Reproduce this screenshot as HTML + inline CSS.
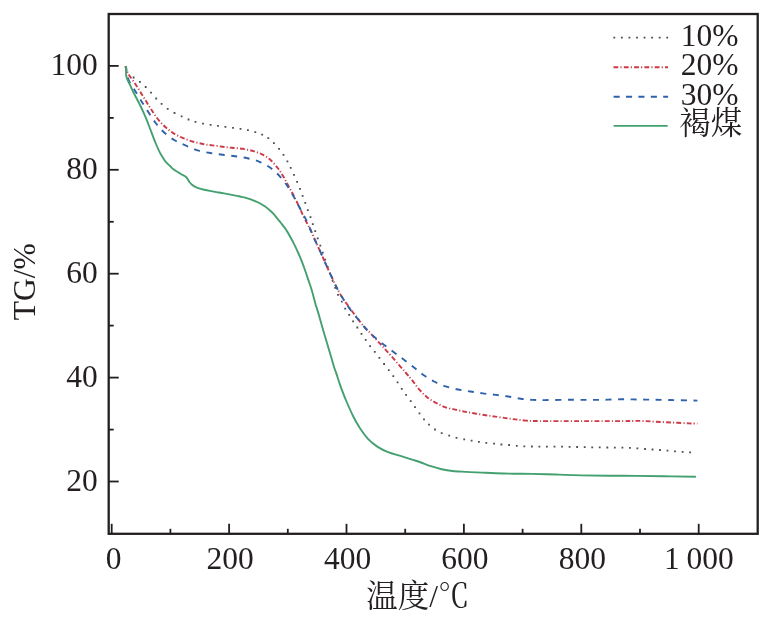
<!DOCTYPE html>
<html><head><meta charset="utf-8"><title>TG</title>
<style>html,body{margin:0;padding:0;background:#fff}body{width:780px;height:620px;overflow:hidden}svg{display:block}text{font-family:"Liberation Serif","Noto Serif CJK SC",serif;font-size:31.5px;fill:#231f20}</style></head><body>
<svg width="780" height="620" viewBox="0 0 780 620">
<rect x="0" y="0" width="780" height="620" fill="#fff"/>
<g fill="none" stroke-linejoin="round">
<path d="M133.6 77.5h.01M139.9 81.9h.01M145.7 87.0h.01M151.0 92.6h.01M156.2 98.5h.01M161.6 103.8h.01M167.7 108.9h.01M174.5 113.0h.01M181.6 116.4h.01M188.5 119.5h.01M195.5 121.9h.01M203.0 123.7h.01M210.6 124.9h.01M218.0 125.9h.01M225.4 126.8h.01M233.0 127.8h.01M240.5 128.9h.01M247.9 130.1h.01M255.3 132.2h.01M262.2 134.7h.01M268.3 138.2h.01M273.9 143.1h.01M279.1 148.8h.01M283.5 154.9h.01M287.4 161.3h.01M290.7 167.9h.01M294.0 174.9h.01M297.1 181.9h.01M300.0 188.8h.01M302.6 195.8h.01M305.3 202.8h.01M307.8 210.1h.01M310.5 217.1h.01M312.8 224.1h.01M315.2 231.2h.01M317.7 238.3h.01M320.3 245.6h.01M322.8 252.7h.01M325.2 259.7h.01M327.7 266.8h.01M330.1 273.8h.01M332.6 280.9h.01M335.2 287.9h.01M338.0 294.8h.01M341.8 301.6h.01M345.2 308.6h.01M349.2 314.8h.01M353.1 321.4h.01M357.3 327.5h.01M361.5 333.8h.01M365.7 339.9h.01M370.1 346.1h.01M374.8 351.9h.01M379.4 357.8h.01M384.1 364.0h.01M388.8 370.1h.01M393.3 376.2h.01M397.6 382.4h.01M401.8 388.9h.01M406.1 394.8h.01M410.7 401.2h.01M415.0 407.2h.01M419.5 413.3h.01M424.0 419.4h.01M429.0 424.7h.01M435.0 429.5h.01M441.7 433.2h.01M449.2 435.6h.01M456.5 437.8h.01M464.2 439.3h.01M471.6 440.6h.01M478.9 441.8h.01M486.3 442.9h.01M494.1 443.7h.01M501.4 444.5h.01M509.1 445.0h.01M516.8 445.8h.01M524.3 446.3h.01M531.9 446.5h.01M539.4 446.6h.01M546.9 446.6h.01M554.5 446.6h.01M562.0 446.7h.01M569.6 446.9h.01M577.1 447.0h.01M584.7 447.2h.01M592.2 447.3h.01M599.7 447.4h.01M607.3 447.5h.01M614.8 447.6h.01M622.4 447.7h.01M629.9 447.9h.01M637.4 448.4h.01M645.0 449.0h.01M652.5 449.5h.01M660.0 450.0h.01M667.5 450.6h.01M675.0 451.3h.01M682.6 451.9h.01M690.1 452.4h.01" stroke="#4d4d4f" stroke-width="1.8" stroke-linecap="square"/>
<path d="M125.2 66.2C125.4 66.7 125.9 68.3 126.3 69.4C126.7 70.5 127.1 71.6 127.7 72.8C128.3 74.0 128.7 74.5 130.0 76.5C131.3 78.5 133.9 81.9 135.8 84.8C137.7 87.7 139.8 91.0 141.6 93.9C143.4 96.8 144.9 99.4 146.7 102.2C148.4 105.0 150.2 107.9 152.1 110.8C154.0 113.7 156.0 116.8 158.2 119.5C160.4 122.2 162.9 124.8 165.3 127.0C167.8 129.2 170.0 131.1 172.9 132.9C175.8 134.7 179.2 136.4 182.5 137.8C185.8 139.2 189.1 140.5 192.5 141.5C195.9 142.5 199.7 143.3 203.0 144.0C206.3 144.7 209.0 145.0 212.3 145.4C215.6 145.8 219.3 146.3 222.6 146.7C225.9 147.1 228.6 147.5 232.0 147.8C235.4 148.2 239.2 148.2 242.8 148.8C246.4 149.4 250.3 150.2 253.6 151.2C256.9 152.2 259.8 153.2 262.7 154.7C265.6 156.2 268.2 157.9 270.8 160.2C273.4 162.5 276.0 165.8 278.1 168.5C280.2 171.2 281.5 173.5 283.3 176.5C285.1 179.5 287.0 183.4 288.7 186.5C290.4 189.6 291.8 192.0 293.4 195.0C294.9 198.0 296.5 201.1 298.0 204.3C299.5 207.5 301.1 211.2 302.6 214.4C304.2 217.6 305.9 220.9 307.3 223.7C308.7 226.4 309.6 227.9 311.0 230.9C312.4 233.9 314.0 237.9 315.7 241.7C317.4 245.4 319.3 249.4 321.1 253.4C322.9 257.4 324.7 261.7 326.5 265.7C328.3 269.7 330.1 273.5 331.9 277.4C333.7 281.3 335.6 285.5 337.4 289.0C339.2 292.5 341.3 295.9 342.8 298.3C344.3 300.7 344.6 300.9 346.5 303.5C348.4 306.1 351.6 310.6 354.2 314.0C356.8 317.4 359.1 320.8 361.9 324.1C364.7 327.5 368.1 330.8 371.2 334.1C374.3 337.5 377.4 340.8 380.5 344.2C383.6 347.6 386.7 350.8 389.8 354.3C392.9 357.8 396.4 362.0 399.1 365.1C401.8 368.2 403.9 370.6 406.0 373.0C408.1 375.4 409.2 376.6 411.4 379.3C413.6 382.0 416.5 386.4 419.2 389.4C421.9 392.4 424.5 395.1 427.3 397.4C430.1 399.6 432.9 401.2 436.0 402.9C439.1 404.5 442.2 406.1 445.6 407.3C449.0 408.5 453.1 409.1 456.5 409.9C459.9 410.7 462.6 411.3 465.7 411.9C468.8 412.5 471.6 412.9 475.0 413.5C478.4 414.1 482.5 414.8 485.9 415.3C489.3 415.8 491.8 416.1 495.2 416.6C498.6 417.1 502.6 417.6 506.0 418.1C509.4 418.6 511.9 419.0 515.3 419.4C518.6 419.8 522.0 420.3 526.1 420.6C530.2 420.9 530.8 421.0 540.0 421.1C549.2 421.2 567.5 421.1 581.3 421.1C595.1 421.1 613.0 421.1 622.6 421.1C632.2 421.1 633.6 420.8 639.1 420.9C644.6 421.0 650.1 421.4 655.6 421.7C661.1 422.0 666.6 422.2 672.1 422.5C677.6 422.8 684.4 423.2 688.6 423.4C692.8 423.6 695.9 423.5 697.4 423.5" stroke="#cb3a45" stroke-width="1.9" stroke-dasharray="4.8 2.164 1.1 2.164" stroke-dashoffset="1.02"/>
<path d="M126.1 66.2C126.1 66.8 126.2 68.6 126.4 70.0C126.6 71.4 126.8 73.1 127.2 74.8C127.6 76.5 127.5 77.6 128.8 80.3C130.1 83.0 133.0 87.4 135.2 91.0C137.4 94.6 139.6 98.3 141.9 101.9C144.2 105.5 146.5 109.3 148.8 112.8C151.1 116.3 153.2 119.8 155.7 123.0C158.2 126.2 160.8 129.4 163.9 132.3C167.1 135.2 171.0 138.1 174.6 140.3C178.2 142.5 181.9 143.8 185.7 145.5C189.5 147.2 193.5 149.2 197.6 150.4C201.7 151.7 206.1 152.3 210.3 153.0C214.5 153.7 218.5 154.2 222.6 154.7C226.7 155.2 230.9 155.6 235.0 156.2C239.1 156.8 243.3 157.4 247.4 158.3C251.5 159.2 255.8 160.2 259.6 161.8C263.4 163.4 267.1 165.4 270.4 167.8C273.7 170.2 276.8 173.1 279.6 176.1C282.4 179.1 284.8 182.1 287.2 185.7C289.6 189.2 291.9 193.5 294.1 197.4C296.3 201.3 298.2 205.1 300.3 209.0C302.4 212.9 304.7 216.9 306.5 220.6C308.3 224.2 309.5 227.4 311.0 230.9C312.5 234.4 314.0 237.9 315.7 241.7C317.4 245.4 319.3 249.4 321.1 253.4C322.9 257.4 324.7 261.7 326.5 265.7C328.3 269.7 330.1 273.5 331.9 277.4C333.7 281.3 335.5 285.5 337.4 289.0C339.2 292.5 341.0 295.2 343.0 298.5C345.0 301.8 347.0 305.0 349.6 308.6C352.2 312.2 356.0 316.7 358.8 320.2C361.6 323.7 363.8 326.5 366.6 329.5C369.5 332.5 372.8 335.6 375.9 338.3C379.0 341.0 382.0 343.2 385.2 345.7C388.4 348.2 391.8 350.7 395.2 353.2C398.6 355.7 402.0 358.3 405.3 360.8C408.6 363.3 411.9 365.9 415.0 368.3C418.1 370.7 420.6 373.1 423.8 375.3C427.0 377.5 430.4 379.6 434.0 381.5C437.6 383.4 441.6 385.1 445.6 386.4C449.6 387.7 453.9 388.6 458.0 389.5C462.1 390.4 466.3 390.9 470.4 391.5C474.5 392.1 478.6 392.8 482.8 393.4C487.1 394.0 491.6 394.4 495.9 394.9C500.1 395.4 504.2 395.9 508.3 396.5C512.4 397.1 516.7 398.1 520.7 398.7C524.8 399.3 528.7 399.7 532.6 399.9C536.5 400.1 537.7 400.1 544.1 400.1C550.5 400.1 562.4 399.8 571.0 399.8C579.6 399.8 587.5 400.0 595.7 399.9C604.0 399.8 612.2 399.4 620.5 399.3C628.8 399.2 637.0 399.5 645.3 399.6C653.5 399.7 661.3 399.8 670.0 400.0C678.7 400.2 692.8 400.5 697.4 400.6" stroke="#3062aa" stroke-width="1.9" stroke-dasharray="6 6.563" stroke-dashoffset="0.90"/>
<path d="M126.1 66.1C126.1 66.9 126.0 69.3 126.0 71.0C126.0 72.7 126.0 74.5 126.3 76.0C126.6 77.5 127.0 78.7 127.6 80.0C128.2 81.3 128.7 82.1 129.6 84.0C130.5 85.9 131.9 89.3 133.0 91.5C134.1 93.7 134.9 95.2 136.0 97.3C137.1 99.4 138.3 101.7 139.5 104.0C140.7 106.3 141.8 108.8 143.0 111.3C144.2 113.8 145.3 116.4 146.5 119.3C147.7 122.2 148.9 125.7 150.0 128.5C151.1 131.3 151.9 133.5 152.9 136.1C153.9 138.7 154.9 141.4 156.0 144.0C157.1 146.6 158.3 149.4 159.4 151.6C160.5 153.8 161.4 155.3 162.5 157.0C163.6 158.7 164.6 160.4 165.8 161.9C167.1 163.4 168.7 164.8 170.0 166.0C171.3 167.2 172.2 168.3 173.5 169.3C174.8 170.3 176.4 171.2 177.7 172.0C179.0 172.8 180.0 173.4 181.3 174.2C182.6 175.0 184.5 175.8 185.5 176.6C186.5 177.4 186.8 177.9 187.5 178.8C188.2 179.7 188.7 181.0 189.4 182.0C190.2 183.0 191.1 184.0 192.0 184.8C192.9 185.6 193.6 186.0 194.8 186.6C196.0 187.2 197.4 187.8 199.0 188.3C200.6 188.8 202.3 189.3 204.1 189.7C205.9 190.1 207.9 190.5 210.0 190.9C212.1 191.3 214.2 191.7 216.5 192.1C218.8 192.5 221.4 192.9 224.0 193.4C226.6 193.9 229.2 194.4 231.9 194.9C234.6 195.4 237.4 195.9 240.0 196.5C242.6 197.1 245.4 197.7 247.4 198.3C249.4 198.9 250.4 199.3 252.0 199.9C253.6 200.5 255.7 201.3 257.2 202.0C258.7 202.7 259.7 203.2 261.0 204.0C262.3 204.8 263.7 205.5 265.2 206.6C266.7 207.7 268.6 209.3 270.0 210.5C271.4 211.7 272.2 212.4 273.5 213.8C274.8 215.2 276.4 217.5 277.7 219.0C278.9 220.5 279.6 221.2 281.0 223.0C282.4 224.8 284.8 227.8 286.3 230.1C287.9 232.4 289.0 234.7 290.3 237.0C291.6 239.3 292.9 241.6 294.1 244.1C295.4 246.6 296.5 249.2 297.8 252.0C299.1 254.8 300.6 258.3 301.7 261.1C302.8 263.9 303.6 266.2 304.6 269.0C305.6 271.8 306.5 274.4 307.7 278.1C308.9 281.8 310.7 286.5 312.0 291.0C313.3 295.5 314.9 302.1 315.7 305.0C316.5 307.9 316.3 306.3 317.0 308.6C317.7 310.9 319.0 315.4 320.0 319.0C321.0 322.6 322.0 326.3 323.2 330.3C324.4 334.3 325.7 338.6 327.0 343.0C328.3 347.4 329.7 352.3 331.0 356.6C332.3 360.9 333.8 366.2 334.7 369.0C335.6 371.8 335.5 370.9 336.4 373.6C337.3 376.3 338.5 380.7 340.2 385.3C341.9 389.9 344.1 395.8 346.3 401.0C348.5 406.2 351.0 411.9 353.3 416.5C355.6 421.1 357.9 425.1 360.3 428.8C362.8 432.5 365.2 435.9 368.0 438.9C370.8 441.9 373.9 444.4 377.3 446.6C380.7 448.8 384.2 450.6 388.1 452.1C392.0 453.7 396.4 454.6 400.5 455.9C404.6 457.2 409.5 458.7 412.9 459.8C416.3 460.9 418.0 461.4 421.0 462.5C424.0 463.6 427.4 465.1 430.8 466.2C434.2 467.3 438.1 468.5 441.7 469.3C445.3 470.1 448.3 470.6 452.5 471.0C456.7 471.4 462.2 471.6 467.0 471.9C471.8 472.2 476.6 472.4 481.4 472.6C486.2 472.8 490.5 473.0 495.9 473.2C501.3 473.4 507.9 473.6 513.9 473.7C519.9 473.8 526.6 473.8 532.0 473.9C537.4 474.0 541.9 474.1 546.4 474.2C550.9 474.3 553.3 474.4 559.1 474.6C564.9 474.8 570.7 475.2 581.3 475.4C591.9 475.6 608.8 475.7 622.6 475.8C636.4 475.9 651.7 476.0 663.9 476.2C676.1 476.4 690.6 476.7 695.9 476.8" stroke="#43a06f" stroke-width="1.9"/>
</g>
<g stroke="#231f20" stroke-width="2.3" fill="none">
<rect x="108.7" y="14.0" width="649.0" height="519.8"/>
</g>
<g stroke="#231f20" stroke-width="1.8" fill="none">
<line x1="111.7" y1="533.8" x2="111.7" y2="523.8"/>
<line x1="170.4" y1="533.8" x2="170.4" y2="528.8"/>
<line x1="229.1" y1="533.8" x2="229.1" y2="523.8"/>
<line x1="287.8" y1="533.8" x2="287.8" y2="528.8"/>
<line x1="346.5" y1="533.8" x2="346.5" y2="523.8"/>
<line x1="405.2" y1="533.8" x2="405.2" y2="528.8"/>
<line x1="463.9" y1="533.8" x2="463.9" y2="523.8"/>
<line x1="522.6" y1="533.8" x2="522.6" y2="528.8"/>
<line x1="581.3" y1="533.8" x2="581.3" y2="523.8"/>
<line x1="640.0" y1="533.8" x2="640.0" y2="528.8"/>
<line x1="698.7" y1="533.8" x2="698.7" y2="523.8"/>
<line x1="108.7" y1="481.5" x2="118.7" y2="481.5"/>
<line x1="108.7" y1="429.6" x2="113.7" y2="429.6"/>
<line x1="108.7" y1="377.6" x2="118.7" y2="377.6"/>
<line x1="108.7" y1="325.6" x2="113.7" y2="325.6"/>
<line x1="108.7" y1="273.7" x2="118.7" y2="273.7"/>
<line x1="108.7" y1="221.8" x2="113.7" y2="221.8"/>
<line x1="108.7" y1="169.8" x2="118.7" y2="169.8"/>
<line x1="108.7" y1="117.9" x2="113.7" y2="117.9"/>
<line x1="108.7" y1="65.9" x2="118.7" y2="65.9"/>
</g>
<g text-anchor="middle">
<text x="113.5" y="569.2">0</text>
<text x="230.1" y="569.2">200</text>
<text x="347.5" y="569.2">400</text>
<text x="464.9" y="569.2">600</text>
<text x="582.3" y="569.2">800</text>
<text x="698.8" y="569.2" word-spacing="-1.2">1 000</text>
</g>
<g text-anchor="end">
<text x="97.8" y="490.7">20</text>
<text x="97.8" y="386.8">40</text>
<text x="97.8" y="282.9">60</text>
<text x="97.8" y="179.0">80</text>
<text x="97.8" y="75.1">100</text>
</g>
<text x="418" y="606.5" text-anchor="middle">温度/℃</text>
<text transform="translate(34.6 281.7) rotate(-90)" text-anchor="middle">TG/%</text>
<g fill="none">
<line x1="614.3" y1="37.7" x2="668.2" y2="37.7" stroke="#4d4d4f" stroke-width="1.8" stroke-linecap="square" stroke-dasharray="0.01 7.55"/>
<line x1="613.5" y1="67.2" x2="668" y2="67.2" stroke="#cb3a45" stroke-width="1.9" stroke-dasharray="4.8 2.2 1.1 2.2"/>
<line x1="613.6" y1="96.8" x2="668.1" y2="96.8" stroke="#3062aa" stroke-width="1.9" stroke-dasharray="6.1 6.3"/>
<line x1="613.6" y1="125.9" x2="667.7" y2="125.9" stroke="#43a06f" stroke-width="1.9"/>
</g>
<text x="680.8" y="46.2">10%</text>
<text x="680.8" y="75.4">20%</text>
<text x="680.8" y="104.8">30%</text>
<text x="679.3" y="133.8">褐煤</text>
</svg></body></html>
